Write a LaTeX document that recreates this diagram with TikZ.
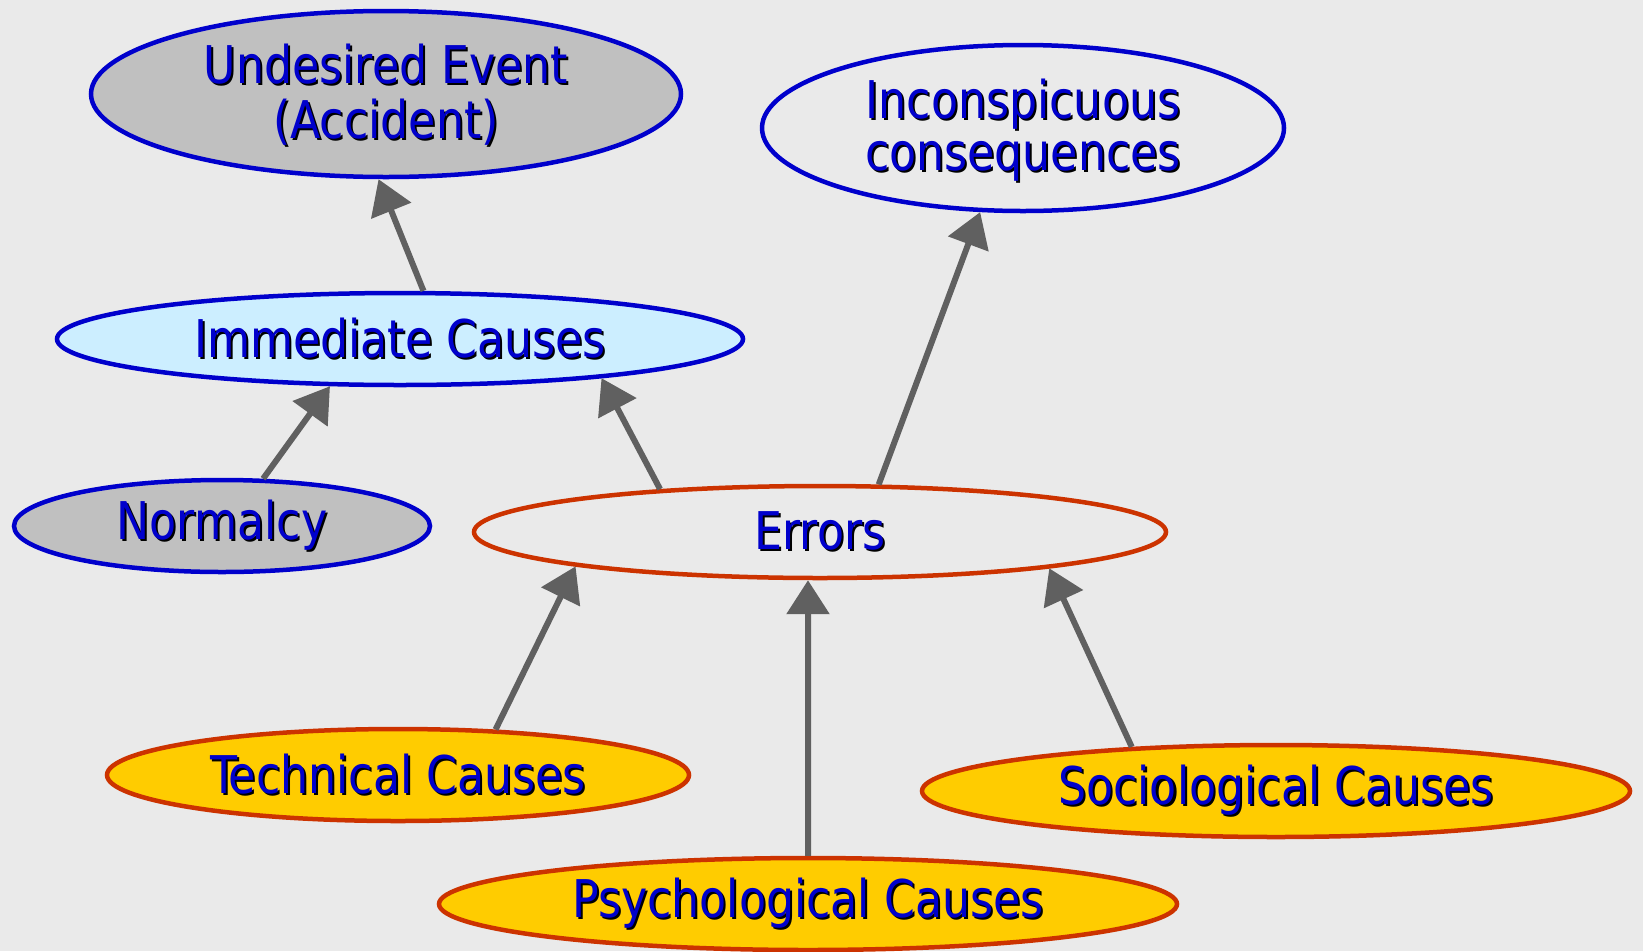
\documentclass[tikz,border=0pt]{standalone}
\usepackage{fontspec}
\setmainfont[FakeStretch=0.945]{DejaVu Sans Condensed}
\usetikzlibrary{shapes.geometric, arrows.meta, positioning}
\definecolor{bggray}{HTML}{EAEAEA}
\definecolor{txtblue}{HTML}{0000CC}
\definecolor{edgered}{HTML}{CC3300}
\definecolor{causefill}{HTML}{FFCC00}
\definecolor{lightblue}{HTML}{CCEEFF}
\definecolor{eventgray}{HTML}{C0C0C0}
\definecolor{arrowgray}{HTML}{606060}
\newcommand{\shad}[1]{\rlap{\hspace{2pt}\raisebox{-2pt}{\color{black}#1}}{\color{txtblue}#1}}
\newcommand{\twolines}[2]{\raisebox{-5pt}[\height][\depth]{\begin{tabular}{@{}c@{}}\shad{#1}\\\shad{#2}\end{tabular}}}
\tikzstyle{event} = [ellipse, draw=txtblue, line width=4.5pt, inner sep=0pt, minimum height=92pt, align=center, font=\fontsize{52}{52}\selectfont]
\tikzstyle{factor} = [event, draw=edgered]
\tikzstyle{cause} = [factor, fill=causefill]
\tikzstyle{arrow} = [line width=6pt, draw=arrowgray, -{Triangle[length=34pt,width=42pt]}]

\begin{document}
\begin{tikzpicture}[x=1pt, y=-1pt]
        \fill[bggray] (0,0) rectangle (1643,951);
        \useasboundingbox (0,0) rectangle (1643,951);
        \node[event, fill=eventgray, minimum width=590pt, minimum height=166pt] (accident) at (386,94) {\twolines{Undesired Event}{(Accident)}};
        \node[event, minimum width=522pt, minimum height=166pt] (hidden) at (1023,128) {\twolines{Inconspicuous}{consequences}};
        \node[event, fill=lightblue, minimum width=686pt] (immediate) at (400,339) {\shad{Immediate Causes}};
        \node[event, fill=eventgray, minimum width=416pt] (normalcy) at (222,526) {\shad{Normalcy}};
        \node[factor, minimum width=692pt] (errors) at (820,532) {\shad{Errors}};
        \node[cause, minimum width=582pt] (technical) at (398,775) {\shad{Technical Causes}};
        \node[cause, minimum width=738pt] (psycho) at (808,904) {\shad{Psychological Causes}};
        \node[cause, minimum width=708pt] (socio) at (1276,791) {\shad{Sociological Causes}};
        \draw[arrow] (immediate.64) -- (accident.265);
        \draw[arrow] (normalcy.49) -- (immediate.214);
        \draw[arrow] (errors.165.5) -- (immediate.349.5);
        \draw[arrow] (errors.39) -- (hidden.243);
        \draw[arrow] (technical.25) -- (errors.188.5);
        \draw[arrow] (psycho.90) -- (errors.256);
        \draw[arrow] (socio.163) -- (errors.351);
    \end{tikzpicture}
\end{document}
